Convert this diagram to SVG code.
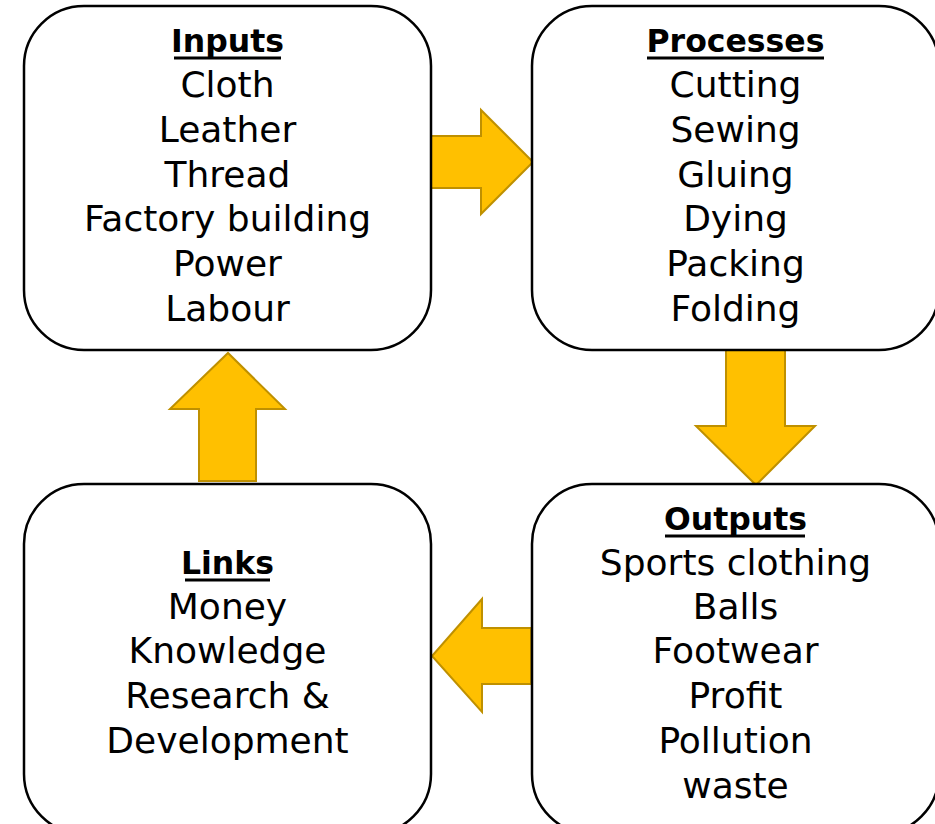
<svg xmlns="http://www.w3.org/2000/svg" width="935" height="824" viewBox="0 0 935 824">
  <style>
    .box { fill: #ffffff; stroke: #000000; stroke-width: 2.5; }
    .arrow { fill: #FFC000; stroke: #BF9000; stroke-width: 2; stroke-linejoin: miter; }
    .head { font-family: "DejaVu Sans", "Liberation Sans", sans-serif; font-weight: bold; font-size: 31.5px; text-anchor: middle; fill: #000000; }
    .item { font-family: "DejaVu Sans", "Liberation Sans", sans-serif; font-size: 36px; text-anchor: middle; fill: #000000; }
    .ul { stroke: #000000; stroke-width: 3; }
  </style>
  <rect width="935" height="824" fill="#ffffff"/>

  <!-- connectors: block arrows between stages -->
  <g id="connectors">
    <polygon class="arrow" points="431,136 481,136 481,110 533,162 481,214 481,188 431,188"/>
    <polygon class="arrow" points="726,349 785,349 785,426 815,426 756,485 696,426 726,426"/>
    <polygon class="arrow" points="531,628 531,684 482,684 482,712 432,656 482,599 482,628"/>
    <polygon class="arrow" points="199,481 256,481 256,409 285,409 228,353 170,409 199,409"/>
  </g>

  <g id="inputs">
    <rect class="box" x="24" y="6" width="407" height="344" rx="60" ry="60"/>
    <text class="head" x="227.5" y="52">Inputs</text>
    <line class="ul" x1="174" y1="58" x2="281" y2="58"/>
    <text class="item" x="227.5" y="97">Cloth</text>
    <text class="item" x="227.5" y="142">Leather</text>
    <text class="item" x="227.5" y="186.5">Thread</text>
    <text class="item" x="227.5" y="231">Factory building</text>
    <text class="item" x="227.5" y="276">Power</text>
    <text class="item" x="227.5" y="320.5">Labour</text>
  </g>

  <g id="processes">
    <rect class="box" x="532" y="6" width="407" height="344" rx="60" ry="60"/>
    <text class="head" x="735.5" y="52">Processes</text>
    <line class="ul" x1="647" y1="58" x2="824" y2="58"/>
    <text class="item" x="735.5" y="97">Cutting</text>
    <text class="item" x="735.5" y="142">Sewing</text>
    <text class="item" x="735.5" y="186.5">Gluing</text>
    <text class="item" x="735.5" y="231">Dying</text>
    <text class="item" x="735.5" y="276">Packing</text>
    <text class="item" x="735.5" y="320.5">Folding</text>
  </g>

  <g id="outputs">
    <rect class="box" x="532" y="484" width="407" height="350" rx="60" ry="60"/>
    <text class="head" x="735.5" y="530">Outputs</text>
    <line class="ul" x1="665" y1="536" x2="805" y2="536"/>
    <text class="item" x="735.5" y="574.5">Sports clothing</text>
    <text class="item" x="735.5" y="618.5">Balls</text>
    <text class="item" x="735.5" y="663">Footwear</text>
    <text class="item" x="735.5" y="708">Profit</text>
    <text class="item" x="735.5" y="753">Pollution</text>
    <text class="item" x="735.5" y="798">waste</text>
  </g>

  <g id="links">
    <rect class="box" x="24" y="484" width="407" height="350" rx="60" ry="60"/>
    <text class="head" x="227.5" y="574">Links</text>
    <line class="ul" x1="185" y1="580" x2="270" y2="580"/>
    <text class="item" x="227.5" y="618.5">Money</text>
    <text class="item" x="227.5" y="663">Knowledge</text>
    <text class="item" x="227.5" y="708">Research &amp;</text>
    <text class="item" x="227.5" y="753">Development</text>
  </g>
</svg>
